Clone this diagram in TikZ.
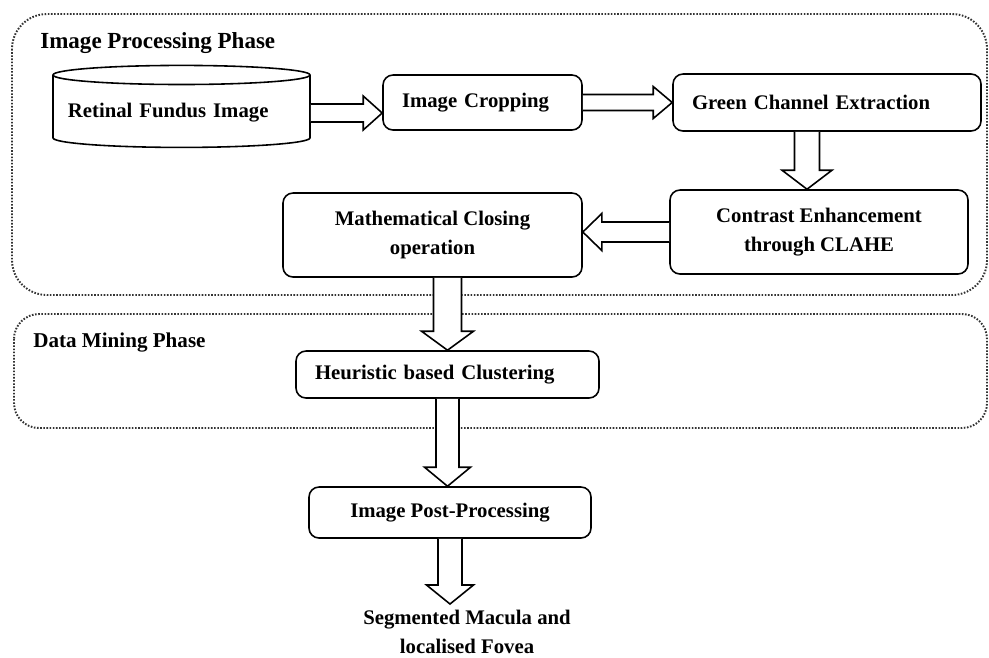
\documentclass[tikz,border=0pt]{standalone}
\usepackage{fontspec}
\setmainfont{Liberation Serif}
\usetikzlibrary{shapes.geometric,calc}

\newcommand{\stagefont}{\bfseries\fontsize{11.8}{16.5}\selectfont}
% block arrow: from, to, half shaft width, half head width
\newcommand{\blockarrow}[4]{%
  \path[blockline] let \p1=(#1), \p2=(#2), \n1={atan2(\y2-\y1,\x2-\x1)} in
    ($(\p1)+(\n1+90:#3)$) -- ($(\p2)+(\n1:-3.8mm)+(\n1+90:#3)$)
    -- ($(\p2)+(\n1:-3.8mm)+(\n1+90:#4)$) -- (\p2)
    -- ($(\p2)+(\n1:-3.8mm)+(\n1-90:#4)$) -- ($(\p2)+(\n1:-3.8mm)+(\n1-90:#3)$)
    -- ($(\p1)+(\n1-90:#3)$);}

\tikzset{
  phase/.style={draw=black!80, line width=1.1pt, dash pattern=on 0.9pt off 0.9pt},
  stage/.style={draw, line width=0.9pt, rounded corners=2mm, font=\stagefont, inner ysep=0pt},
  leftstage/.style={stage, align=left, inner xsep=3.8mm},
  midstage/.style={stage, align=center, inner xsep=0pt},
  blockline/.style={draw, fill=white, line width=0.9pt, line join=miter},
}

\begin{document}
\begin{tikzpicture}[x=0.2mm, y=-0.2mm]
  \useasboundingbox (0,0) rectangle (989,657);
  \draw[phase, rounded corners=7mm] (12,14) rectangle (987,295);
  \draw[phase, rounded corners=5mm] (14,314) rectangle (987,428);
  \node[anchor=west, inner sep=0pt, font=\bfseries\fontsize{13.1}{16}\selectfont] (ipphase) at (40,43) {Image Processing Phase};
  \node[anchor=west, inner sep=0pt, font=\bfseries\fontsize{12}{16}\selectfont] (dmphase) at (33,342) {Data Mining Phase};

  \node[cylinder, shape border rotate=90, aspect=0.08, draw, line width=0.9pt, font=\stagefont,
        minimum width=51.4mm, minimum height=16.4mm, text width=45.4mm, align=left] (fundus) at (181.5,113) {Retinal Fundus Image};
  \node[leftstage, text width=32.2mm, minimum height=11mm] (crop) at (482.5,102.5) {Image Cropping};
  \node[leftstage, text width=54mm, minimum height=11.4mm] (green) at (827,102.5) {Green Channel Extraction};
  \node[midstage, minimum width=59.6mm, minimum height=16.8mm] (contrast) at (819,232) {Contrast Enhancement\\through CLAHE};
  \node[midstage, minimum width=59.8mm, minimum height=16.8mm] (closing) at (432.5,235) {Mathematical Closing\\operation};
  \node[leftstage, text width=53mm, minimum height=9.4mm] (cluster) at (447.5,374.5) {Heuristic based Clustering};
  \node[midstage, minimum width=56.4mm, minimum height=10.2mm] (post) at (450,512.5) {Image Post-Processing};
  \node[font=\stagefont, align=center] (result) at (467,632) {Segmented Macula and\\localised Fovea};

  \blockarrow{fundus.east}{crop.west |- fundus.east}{1.8mm}{3.4mm}
  \blockarrow{crop.east}{green.west}{1.6mm}{3.2mm}
  \blockarrow{$(green.south)+(-20,0)$}{$(contrast.north)+(-12,0)$}{2.5mm}{5mm}
  \blockarrow{contrast.west}{closing.east |- contrast.west}{2mm}{3.7mm}
  \blockarrow{closing.south -| cluster.north}{cluster.north}{2.8mm}{5.2mm}
  \blockarrow{cluster.south}{post.north -| cluster.south}{2.3mm}{4.6mm}
  \blockarrow{post.south}{result.north -| post.south}{2.4mm}{4.7mm}
\end{tikzpicture}
\end{document}
